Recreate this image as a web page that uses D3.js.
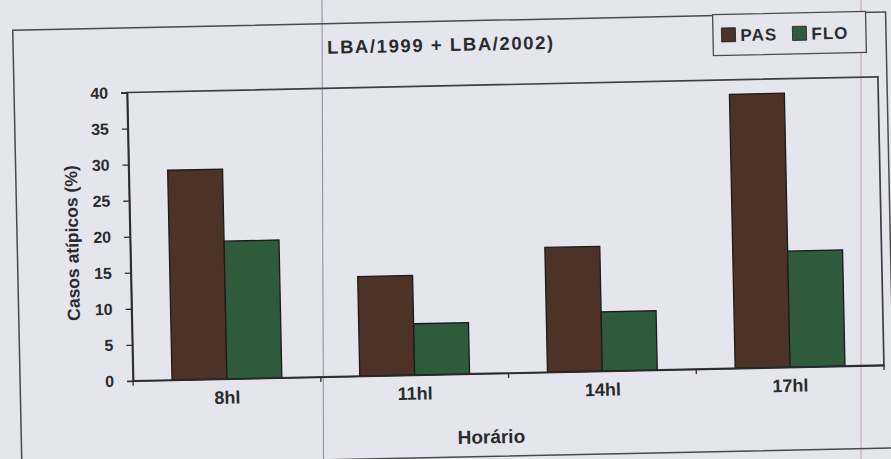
<!DOCTYPE html>
<html>
<head>
<meta charset="utf-8">
<script src="https://cdn.jsdelivr.net/npm/d3@7"></script>
<style>
  html, body { margin: 0; padding: 0; background: #e5e5ee; }
  svg { display: block; }
  text { font-family: "Liberation Sans", Arial, sans-serif; fill: #2b2b2b; }
</style>
</head>
<body>
<script>
// Horário categories and the share of atypical cases (%) per site
const categories = ["8hl", "11hl", "14hl", "17hl"];
const seriesNames = ["PAS", "FLO"];
const pasValues = [29.1, 13.8, 17.3, 38.0];
const floValues = [19.1, 7.1, 8.2, 16.1];
const yTicks = [0, 5, 10, 15, 20, 25, 30, 35, 40];
const titleText = "LBA/1999 + LBA/2002)";
const xTitle = "Horário";
const yTitle = "Casos atípicos (%)";

const seriesColors = { PAS: "#4d3227", FLO: "#2e5b3b" };

const W = 891, H = 459;
const plot = { left: 130, right: 881, top: 84.6, bottom: 373 };

const svg = d3.select("body").append("svg")
  .attr("width", W).attr("height", H);

svg.append("rect").attr("width", W).attr("height", H).attr("fill", "#e5e5ee");

// faint ruling lines of the page behind the chart
svg.append("line").attr("x1", 322).attr("x2", 323.5).attr("y1", 0).attr("y2", H)
  .attr("stroke", "#8a8aa6").attr("stroke-width", 1);
svg.append("line").attr("x1", 861).attr("x2", 861).attr("y1", 0).attr("y2", H)
  .attr("stroke", "#c98aa8").attr("stroke-width", 0.8);

// whole chart sits slightly tilted on the page
const chart = svg.append("g")
  .attr("transform", `rotate(-1.2, ${(plot.left + plot.right) / 2}, ${(plot.top + plot.bottom) / 2})`);

// outer chart frame
chart.append("rect")
  .attr("x", 17).attr("y", 20).attr("width", 873).attr("height", 436)
  .attr("fill", "none").attr("stroke", "#4a4a4a").attr("stroke-width", 1.5);

// scales
const x0 = d3.scaleBand().domain(categories)
  .range([plot.left, plot.right]).paddingInner(0.415).paddingOuter(0.2075);
const x1 = d3.scaleBand().domain(seriesNames).range([0, x0.bandwidth()]);
const y = d3.scaleLinear().domain([0, 40]).range([plot.bottom, plot.top]);

// plot area border
chart.append("rect")
  .attr("x", plot.left).attr("y", plot.top)
  .attr("width", plot.right - plot.left).attr("height", plot.bottom - plot.top)
  .attr("fill", "none").attr("stroke", "#3f3f3f").attr("stroke-width", 1.7);

// bars
const rows = categories.map((c, i) => ({ cat: c, PAS: pasValues[i], FLO: floValues[i] }));
const groups = chart.append("g").selectAll("g").data(rows).join("g")
  .attr("transform", d => `translate(${x0(d.cat)},0)`);
groups.selectAll("rect")
  .data(d => seriesNames.map(s => ({ s, v: d[s] })))
  .join("rect")
  .attr("x", d => x1(d.s))
  .attr("y", d => y(d.v))
  .attr("width", x1.bandwidth())
  .attr("height", d => y(0) - y(d.v))
  .attr("fill", d => seriesColors[d.s])
  .attr("stroke", "#1b1b1b").attr("stroke-width", 1.3);

// y axis
const yAxis = chart.append("g")
  .attr("transform", `translate(${plot.left},0)`)
  .call(d3.axisLeft(y).tickValues(yTicks).tickSize(6).tickPadding(13));
yAxis.select(".domain").attr("stroke", "#2b2b2b").attr("stroke-width", 1.6);
yAxis.selectAll(".tick line").attr("stroke", "#2b2b2b").attr("stroke-width", 1.3);
yAxis.selectAll(".tick text")
  .style("font-size", "16px").style("font-weight", "bold").attr("fill", "#2b2b2b");

// x axis: labels at category centres, tick marks between categories
const xAxis = chart.append("g")
  .attr("transform", `translate(0,${plot.bottom})`)
  .call(d3.axisBottom(x0).tickSize(0).tickPadding(12));
xAxis.select(".domain").attr("stroke", "#2b2b2b").attr("stroke-width", 1.6);
xAxis.selectAll(".tick text")
  .style("font-size", "18px").style("font-weight", "bold").attr("fill", "#2b2b2b");
const bounds = d3.range(categories.length + 1).map(k => plot.left + k * x0.step());
xAxis.selectAll(".sep").data(bounds).join("line")
  .attr("class", "sep")
  .attr("x1", d => d).attr("x2", d => d).attr("y1", 0).attr("y2", 5)
  .attr("stroke", "#2b2b2b").attr("stroke-width", 1.3);

// titles
chart.append("text")
  .attr("x", 444).attr("y", 50).attr("text-anchor", "middle")
  .attr("textLength", 226).attr("lengthAdjust", "spacing")
  .style("font-size", "18.5px").style("font-weight", "bold")
  .text(titleText);

chart.append("text")
  .attr("x", 487).attr("y", 443).attr("text-anchor", "middle")
  .style("font-size", "19px").style("font-weight", "bold")
  .text(xTitle);

chart.append("text")
  .attr("transform", `translate(72,234) rotate(-90)`)
  .attr("text-anchor", "middle").attr("dy", "0.35em")
  .style("font-size", "17.5px").style("font-weight", "bold")
  .text(yTitle);

// legend
const legend = chart.append("g");
legend.append("rect")
  .attr("x", 717).attr("y", 19).attr("width", 153).attr("height", 41)
  .attr("fill", "#e5e5ee").attr("stroke", "#4a4a4a").attr("stroke-width", 1.3);
const legendX = { PAS: 725.5, FLO: 796.5 };
const items = legend.selectAll("g.item").data(seriesNames).join("g")
  .attr("class", "item")
  .attr("transform", d => `translate(${legendX[d]},32.5)`);
items.append("rect")
  .attr("width", 14).attr("height", 14)
  .attr("fill", d => seriesColors[d]).attr("stroke", "#1b1b1b").attr("stroke-width", 0.8);
items.append("text")
  .attr("x", 19).attr("y", 13.5)
  .style("font-size", "17px").style("font-weight", "bold").style("letter-spacing", "1px")
  .text(d => d);
</script>
</body>
</html>
